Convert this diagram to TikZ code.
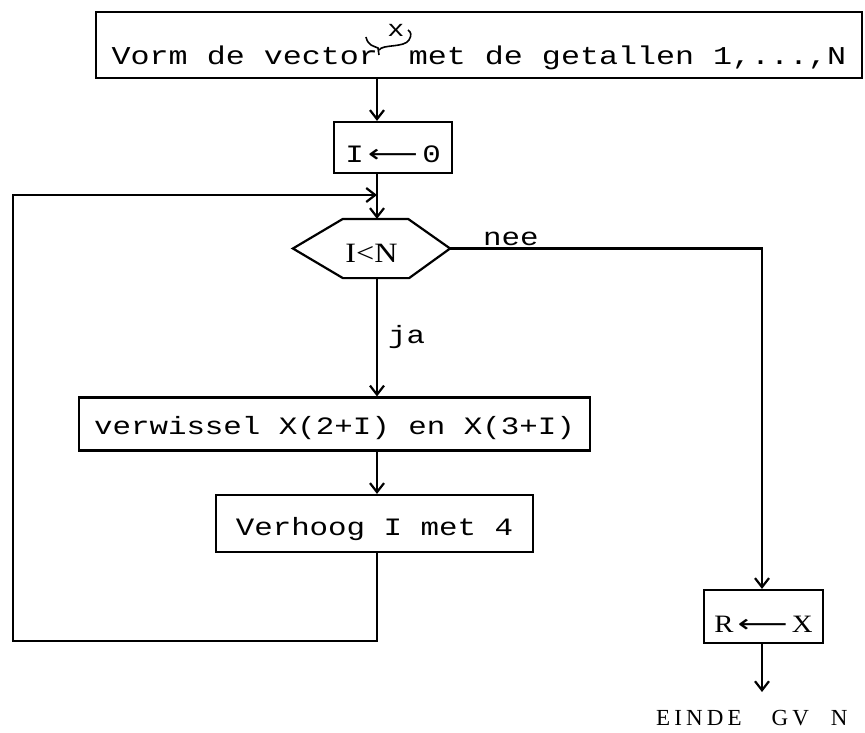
\documentclass[tikz,border=0pt]{standalone}
\usepackage{graphicx}
\usepackage{fontspec}
\newfontfamily\monoface[FakeStretch=1.233]{Liberation Mono}
\newfontfamily\serifface[FakeStretch=1.15]{Liberation Serif}
\newfontfamily\finface[LetterSpace=18]{Liberation Serif}
\newfontfamily\symface{DejaVu Sans}
\usetikzlibrary{arrows.meta,calc}

\newcommand\monotext{\fontsize{25}{30}\selectfont\monoface}
\newcommand\larrow{\scalebox{1.4}[1]{\symface ⟵}}

\tikzset{
  box/.style={draw, rectangle, inner sep=0pt, font=\monotext},
  arr/.style={-{Straight Barb[length=9pt,width=14pt]}},
  lbl/.style={anchor=base west, inner sep=0pt, font=\monotext},
}

\begin{document}
\begin{tikzpicture}[x=1pt, y=-1pt, line width=2.2pt]
  \useasboundingbox (0,0) rectangle (865,733);
  \fill[white] (0,0) rectangle (865,733);

  % flow columns
  \coordinate (col) at (377,0);
  \coordinate (rcol) at (762,0);

  % boxes
  \node[box, font=\fontsize{25.7}{30}\selectfont\monoface,
        minimum width=766pt, minimum height=66pt,
        text height=41pt, text depth=1pt] (top) at (479,45)
        {Vorm de vector\hspace{12pt} met de getallen 1,...,N};
  \node[inner sep=0pt, font=\fontsize{23}{23}\selectfont\monoface] (xmark) at (396,30) {x};
  % brace under the x
  \draw[line width=1.6pt] (366,37) .. controls (368,46) and (374,46) .. (378,48) -- (379,55);
  \draw[line width=1.6pt] (379,50) .. controls (383,44) and (404,48) .. (409,40)
        .. controls (412,35) and (411,32) .. (408,30);

  \node[box, minimum width=118pt, minimum height=51pt,
        text height=30pt, text depth=0pt] (init) at (393,147.5)
        {I\,\larrow\,0};

  \node[inner sep=0pt, minimum width=155pt, minimum height=57pt,
        text height=28pt, text depth=0pt,
        font=\serifface\fontsize{28}{32}\selectfont] (cond) at (371.5,248.5) {I<N};
  \draw (cond.west) -- ($(cond.north west)+(50,0)$) -- ($(cond.north east)+(-42,0)$)
        -- (cond.east) -- ($(cond.south east)+(-41,0)$) -- ($(cond.south west)+(50,0)$) -- cycle;

  \node[box, minimum width=511pt, minimum height=53pt,
        text height=20pt, text depth=0pt] (swap) at (334.5,424)
        {verwissel X(2+I) en X(3+I)};

  \node[box, minimum width=317pt, minimum height=57pt,
        text height=23pt, text depth=0pt] (upd) at (374.5,523.5)
        {Verhoog I met 4\hspace{12pt}};

  \node[box, font=\serifface\fontsize{25}{29}\selectfont,
        minimum width=119pt, minimum height=53pt,
        text height=31pt, text depth=0pt] (res) at (763.5,616.5)
        {R\,\larrow\,X};

  \node[anchor=base west, inner sep=0pt,
        font=\finface\fontsize{23}{27}\selectfont] (fin) at (655,725)
        {EINDE\hspace{30pt}GV\hspace{22pt}N};

  % branch labels
  \node[lbl] (nee) at (482,245) {nee};
  \node[lbl] (ja) at (387,343) {ja};

  % connectors
  \coordinate (merge) at (377,195);
  \coordinate (loopbl) at (13,641);
  \coordinate (finend) at (762,692);

  \draw[arr] (top.south -| col) -- (init.north -| col);
  \draw[arr] (init.south -| col) -- (cond.north -| col);
  \draw[arr] (cond.south -| col) -- (swap.north -| col);
  \draw[arr] (swap.south -| col) -- (upd.north -| col);
  \draw[arr] (upd.south -| col) |- (loopbl) |- (merge);
  \draw[arr] (cond.east) -| (res.north -| rcol);
  \draw[arr] (res.south -| rcol) -- (finend);
\end{tikzpicture}
\end{document}
